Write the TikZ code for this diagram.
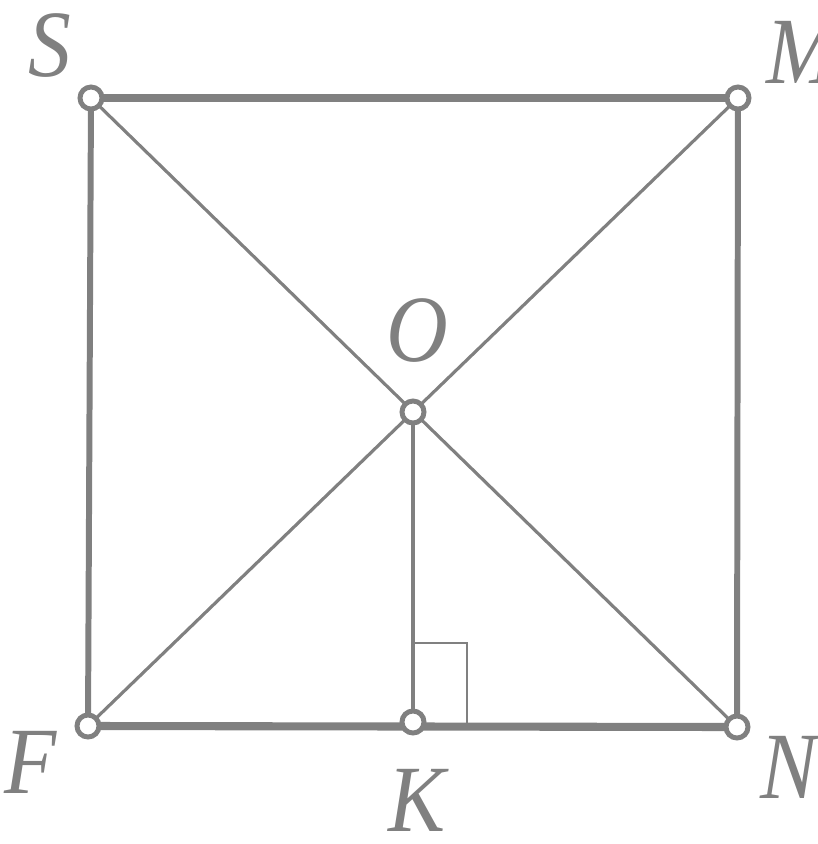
\documentclass[tikz,border=0pt]{standalone}
\usepackage{fontspec}
\setmainfont{Liberation Serif}
\definecolor{lc}{RGB}{128,128,128}
\begin{document}
\begin{tikzpicture}[x=0.01cm,y=-0.01cm,
  pt/.style={circle,draw=lc,fill=white,line width=1.4pt,minimum size=0.22cm,inner sep=0pt},
  thickl/.style={draw=lc,line width=2.3pt},
  sidel/.style={draw=lc,line width=1.7pt},
  thinl/.style={draw=lc,line width=0.9pt},
  lab/.style={text=lc,font=\fontsize{27}{30}\selectfont\itshape,inner sep=0pt,xscale=0.9}]
\useasboundingbox (0,0) rectangle (818,844);
\coordinate (S0) at (91,98);
\coordinate (M0) at (738,98);
\coordinate (F0) at (88,726);
\coordinate (N0) at (737,727);
\coordinate (O0) at (413,412);
\coordinate (K0) at (413,722);
\coordinate (R1) at (413,643);
\coordinate (R2) at (467,643);
\coordinate (R3) at (467,724);
% lines
\draw[thickl] (S0) -- (M0);
\draw[thickl] (F0) -- (N0);
\draw[sidel] (S0) -- (F0);
\draw[sidel] (M0) -- (N0);
\draw[thinl] (S0) -- (N0);
\draw[thinl] (M0) -- (F0);
\draw[thinl] (O0) -- (K0);
\draw[draw=lc,line width=0.7pt] (R1) -- (R2) -- (R3);
% points
\node[pt] (S) at (S0) {};
\node[pt] (M) at (M0) {};
\node[pt] (F) at (F0) {};
\node[pt] (N) at (N0) {};
\node[pt] (O) at (O0) {};
\node[pt] (K) at (K0) {};
% labels
\node[lab] (lS) at (50,46) {S};
\node[lab,anchor=west] (lM) at (766,52) {M};
\node[lab] (lO) at (417,331) {O};
\node[lab] (lF) at (31,762) {F};
\node[lab] (lK) at (417,800) {K};
\node[lab] (lN) at (789,767) {N};
\end{tikzpicture}
\end{document}
